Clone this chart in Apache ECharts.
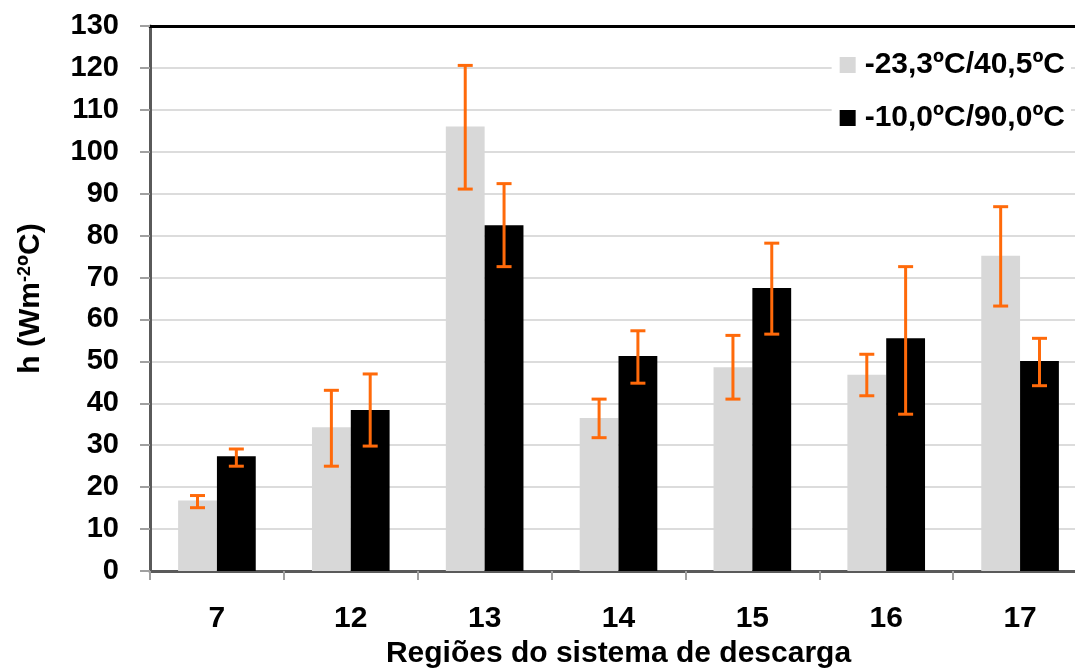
<!DOCTYPE html>
<html><head><meta charset="utf-8">
<script src="https://cdn.jsdelivr.net/npm/echarts@6/dist/echarts.min.js"></script>
<style>html,body{margin:0;padding:0;background:#fff}#c{width:1075px;height:668px}</style>
</head><body><div id="c"></div>
<script>
var categories = ['7','12','13','14','15','16','17'];
var seriesNames = ['-23,3ºC/40,5ºC','-10,0ºC/90,0ºC'];
var grayValues = [16.8, 34.3, 106.0, 36.5, 48.6, 46.8, 75.2];
var grayLow    = [15.1, 25.0, 91.1, 31.8, 41.0, 41.8, 63.2];
var grayHigh   = [18.0, 43.1, 120.6, 41.0, 56.2, 51.7, 86.9];
var blackValues = [27.4, 38.4, 82.5, 51.3, 67.5, 55.5, 50.1];
var blackLow    = [25.0, 29.8, 72.6, 44.8, 56.5, 37.4, 44.2];
var blackHigh   = [29.1, 47.0, 92.4, 57.3, 78.2, 72.6, 55.5];
var yTicks = [0,10,20,30,40,50,60,70,80,90,100,110,120,130];

var FONT = '"Liberation Sans", Arial, sans-serif';
var CAT_GAP = 0.42;

function errData(low, high){ return low.map(function(l,i){ return [i, l, high[i]]; }); }
function errRender(side){
  return function(params, api){
    var i = api.value(0);
    var catW = api.size([1,0])[0];
    var barW = catW*(1-CAT_GAP)/2;
    var p1 = api.coord([i, api.value(1)]);
    var p2 = api.coord([i, api.value(2)]);
    var x = p1[0] + side*barW/2;
    var cap = 7.5;
    var st = {stroke:'#FF6A0A', lineWidth:3};
    return {type:'group', children:[
      {type:'line', shape:{x1:x,y1:p1[1],x2:x,y2:p2[1]}, style:st},
      {type:'line', shape:{x1:x-cap,y1:p1[1],x2:x+cap,y2:p1[1]}, style:st},
      {type:'line', shape:{x1:x-cap,y1:p2[1],x2:x+cap,y2:p2[1]}, style:st}
    ]};
  };
}

var chart = echarts.init(document.getElementById('c'));
chart.setOption({
  animation:false,
  backgroundColor:'#fff',
  textStyle:{fontFamily:FONT},
  grid:{left:150, right:-12, top:26, bottom:97, containLabel:false, outerBoundsMode:'none'},
  legend:{
    data:seriesNames, orient:'vertical', right:4, top:46,
    icon:'rect', itemWidth:16, itemHeight:16, itemGap:23,
    backgroundColor:'#fff', padding:[4,6,4,8],
    textStyle:{fontFamily:FONT, fontWeight:'bold', fontSize:30, color:'#000', padding:[0,0,0,4]}
  },
  xAxis:[{
    type:'category', data:categories,
    name:'Regiões do sistema de descarga', nameLocation:'middle', nameGap:62,
    nameTextStyle:{fontFamily:FONT, fontWeight:'bold', fontSize:30, color:'#000'},
    axisLine:{lineStyle:{color:'#5a5a5a', width:3}},
    axisTick:{show:true, length:9, lineStyle:{color:'#a0a0a0', width:2}},
    axisLabel:{fontFamily:FONT, fontWeight:'bold', fontSize:30, color:'#000', margin:33}
  },{
    type:'category', data:categories, position:'top',
    axisLine:{lineStyle:{color:'#000', width:3}},
    axisTick:{show:false}, axisLabel:{show:false}
  }],
  yAxis:{
    type:'value', min:yTicks[0], max:yTicks[yTicks.length-1], interval:10,
    name:'h (Wm{sup|-2}ºC)', nameLocation:'middle', nameGap:104, nameRotate:90,
    nameTextStyle:{fontFamily:FONT, fontWeight:'bold', fontSize:30, color:'#000',
      rich:{sup:{fontFamily:FONT, fontWeight:'bold', fontSize:18, color:'#000', verticalAlign:'top', padding:[0,0,12,0]}}},
    axisLine:{show:true, lineStyle:{color:'#5a5a5a', width:3}},
    axisTick:{show:true, inside:false, length:10, lineStyle:{color:'#a0a0a0', width:2}},
    axisLabel:{fontFamily:FONT, fontWeight:'bold', fontSize:29, color:'#000', margin:31},
    splitLine:{show:true, lineStyle:{color:'#dcdcdc', width:2}}
  },
  series:[
    {name:seriesNames[0], type:'bar', data:grayValues, barGap:'0%', barCategoryGap:(CAT_GAP*100)+'%',
     itemStyle:{color:'#d8d8d8'}, z:2},
    {name:seriesNames[1], type:'bar', data:blackValues, barGap:'0%', barCategoryGap:(CAT_GAP*100)+'%',
     itemStyle:{color:'#000000'}, z:2},
    {type:'custom', data:errData(grayLow, grayHigh), renderItem:errRender(-1), z:5,
     encode:{x:0, y:[1,2]}},
    {type:'custom', data:errData(blackLow, blackHigh), renderItem:errRender(1), z:5,
     encode:{x:0, y:[1,2]}}
  ]
});
</script></body></html>
